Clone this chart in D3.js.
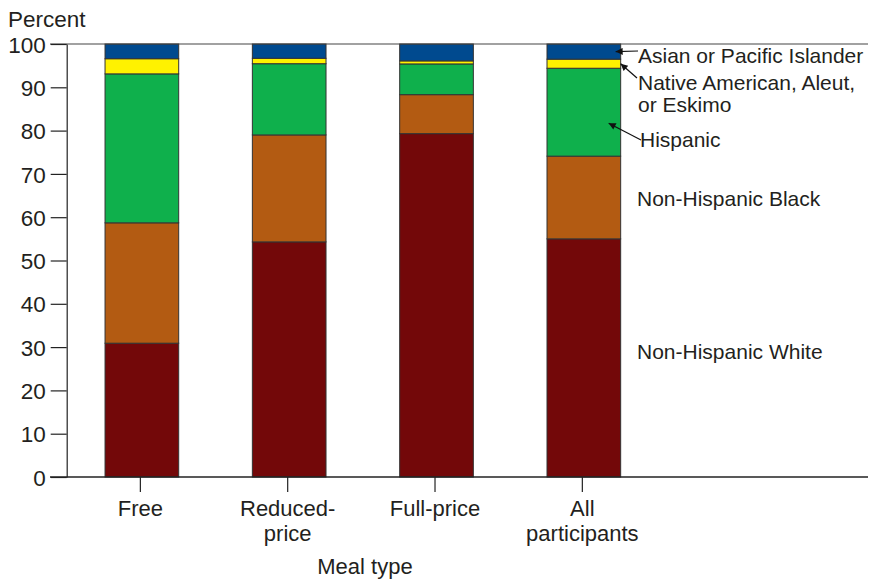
<!DOCTYPE html>
<html>
<head>
<meta charset="utf-8">
<script src="https://cdn.jsdelivr.net/npm/d3@7"></script>
<style>
  html, body { margin: 0; padding: 0; background: #fff; }
  svg { display: block; }
  text { font-family: "Liberation Sans", Arial, Helvetica, sans-serif; fill: #231f20; }
</style>
</head>
<body>
<svg id="chart" width="870" height="582"></svg>
<script>
// ---- data ----
const categories = ["Free", "Reduced-price", "Full-price", "All participants"];
const categoryLabels = [["Free"], ["Reduced-", "price"], ["Full-price"], ["All", "participants"]];
const seriesNames = ["Non-Hispanic White", "Non-Hispanic Black", "Hispanic",
                     "Native American, Aleut, or Eskimo", "Asian or Pacific Islander"];
const white    = [30.9, 54.3, 79.3, 55.0];
const black    = [27.8, 24.7,  9.0, 19.1];
const hispanic = [34.4, 16.45, 7.1, 20.3];
const nativeAm = [ 3.5,  1.25, 0.7,  2.1];
const asian    = [ 3.4,  3.3,  3.9,  3.5];
const yTicks   = [0, 10, 20, 30, 40, 50, 60, 70, 80, 90, 100];
const colors   = ["#730809", "#b35b12", "#0fb04c", "#fff200", "#004a8f"];

const seriesValues = [white, black, hispanic, nativeAm, asian];
const keys = ["white", "black", "hispanic", "nativeAm", "asian"];
const table = categories.map((c, i) => {
  const row = { category: c };
  keys.forEach((k, j) => row[k] = seriesValues[j][i]);
  return row;
});

// ---- layout ----
const svg = d3.select("#chart");
const y = d3.scaleLinear().domain([0, 100]).range([477, 44]);
const x = d3.scaleBand().domain(categories).range([66.7, 656])
  .paddingInner(0.5).paddingOuter(0.25);

const stack = d3.stack().keys(keys);
const stacked = stack(table);

// bars
const g = svg.append("g");
stacked.forEach((layer, li) => {
  g.selectAll(null).data(layer).enter().append("rect")
    .attr("x", d => x(d.data.category) + 1.5)
    .attr("width", x.bandwidth())
    .attr("y", d => y(d[1]))
    .attr("height", d => y(d[0]) - y(d[1]))
    .attr("fill", colors[li])
    .attr("stroke", "#333")
    .attr("stroke-width", 1);
});

// frame lines (top at 100 and baseline at 0)
svg.append("line").attr("x1", 50).attr("x2", 868).attr("y1", y(100)).attr("y2", y(100))
  .attr("stroke", "#444").attr("stroke-width", 1.2);
svg.append("line").attr("x1", 50).attr("x2", 868).attr("y1", y(0)).attr("y2", y(0))
  .attr("stroke", "#222").attr("stroke-width", 1.4);

// y axis
const yAxis = d3.axisLeft(y).tickValues(yTicks).tickSize(16).tickPadding(5).tickSizeOuter(0);
const ya = svg.append("g").attr("transform", "translate(66.7,0)").call(yAxis);
ya.select(".domain").attr("stroke", "#222").attr("stroke-width", 1.2);
ya.selectAll(".tick line").attr("stroke", "#222").attr("stroke-width", 1.2);
ya.selectAll(".tick text").attr("font-size", 22.5).attr("fill", "#231f20")
  .attr("font-family", "Liberation Sans, Arial, sans-serif").attr("dy", "0.36em");

// x axis
const xAxis = d3.axisBottom(x).tickSize(15).tickSizeOuter(0).tickFormat("");
const xa = svg.append("g").attr("transform", `translate(0,${y(0)})`).call(xAxis);
xa.select(".domain").remove();
xa.selectAll(".tick line").attr("stroke", "#222").attr("stroke-width", 1.2);
xa.selectAll(".tick").each(function(d, i) {
  const t = d3.select(this).append("text")
    .attr("text-anchor", "middle")
    .attr("font-size", 22)
    .attr("y", 39);
  categoryLabels[i].forEach((line, k) => {
    t.append("tspan").attr("x", 0).attr("dy", k === 0 ? 0 : 25).text(line);
  });
});

// axis titles
svg.append("text").attr("x", 8).attr("y", 27).attr("font-size", 22.5).text("Percent");
svg.append("text").attr("x", 365).attr("y", 574).attr("text-anchor", "middle")
  .attr("font-size", 22).text("Meal type");

// ---- annotations ----
const lastCat = categories[categories.length - 1];
const barRight = x(lastCat) + x.bandwidth() + 1.5;
const defs = svg.append("defs");
defs.append("marker").attr("id", "arrow").attr("viewBox", "0 0 10 10")
  .attr("refX", 10).attr("refY", 5).attr("markerWidth", 9).attr("markerHeight", 7)
  .attr("markerUnits", "userSpaceOnUse").attr("orient", "auto")
  .append("path").attr("d", "M0,0 L10,5 L0,10 z").attr("fill", "#111");

const lastIdx = categories.length - 1;
const segMid = (li) => {
  const d = stacked[li][lastIdx];
  return (d[0] + d[1]) / 2;
};

const annotations = [
  { lines: ["Asian or Pacific Islander"], tx: 638, ty: 63, from: [638, 51], to: [barRight - 5, y(segMid(4))] },
  { lines: ["Native American, Aleut,"], tx: 638, ty: 90, from: [637, 78], to: [barRight, y(segMid(3))] },
  { lines: ["or Eskimo"], tx: 638, ty: 112, from: null },
  { lines: ["Hispanic"], tx: 640, ty: 147, from: [641, 140], to: [barRight - 12, y(81.7)] },
  { lines: ["Non-Hispanic Black"], tx: 637, ty: 206, from: null },
  { lines: ["Non-Hispanic White"], tx: 637, ty: 359, from: null }
];

annotations.forEach(a => {
  const t = svg.append("text").attr("x", a.tx).attr("y", a.ty).attr("font-size", 21);
  a.lines.forEach((line, k) => {
    t.append("tspan").attr("x", a.tx).attr("dy", k === 0 ? 0 : 21).text(line);
  });
  if (a.from) {
    svg.append("line")
      .attr("x1", a.from[0]).attr("y1", a.from[1])
      .attr("x2", a.to[0]).attr("y2", a.to[1])
      .attr("stroke", "#111").attr("stroke-width", 1.2)
      .attr("marker-end", "url(#arrow)");
  }
});
</script>
</body>
</html>
